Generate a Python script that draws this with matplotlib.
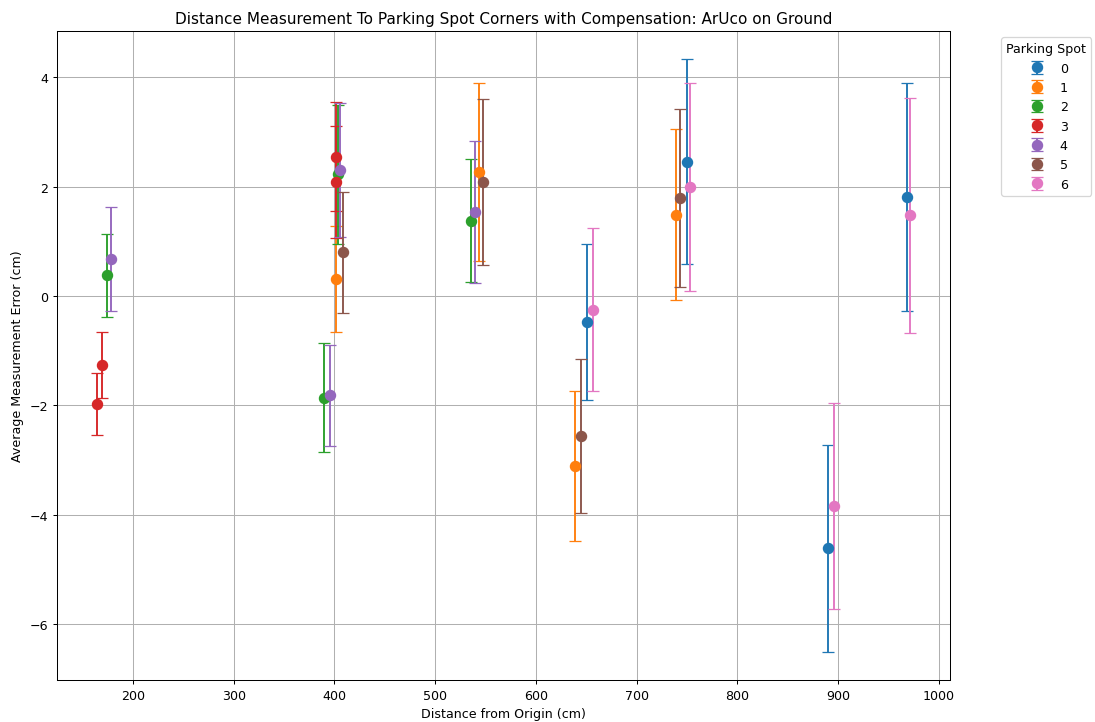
import matplotlib
matplotlib.use("Agg")
import matplotlib.pyplot as plt

# parking spot id -> distance (cm), mean error (cm), std dev (cm)
spots = [0, 1, 2, 3, 4, 5, 6]
distances = {
    0: [651.0, 749.6, 890.1, 967.9],
    1: [401.5, 543.7, 638.7, 739.0],
    2: [174.0, 389.6, 404.0, 535.5],
    3: [164.0, 169.0, 401.2, 401.5],
    4: [178.0, 395.5, 405.5, 539.5],
    5: [408.4, 547.4, 644.3, 743.0],
    6: [656.9, 752.6, 896.0, 971.2],
}
mean_errors = {
    0: [-0.48, 2.46, -4.62, 1.81],
    1: [0.31, 2.27, -3.11, 1.49],
    2: [0.38, -1.86, 2.23, 1.38],
    3: [-1.98, -1.26, 2.55, 2.09],
    4: [0.68, -1.82, 2.31, 1.54],
    5: [0.80, 2.08, -2.56, 1.80],
    6: [-0.25, 1.99, -3.84, 1.48],
}
std_errors = {
    0: [1.43, 1.87, 1.90, 2.08],
    1: [0.97, 1.63, 1.37, 1.56],
    2: [0.76, 1.00, 1.27, 1.13],
    3: [0.57, 0.60, 1.00, 1.02],
    4: [0.95, 0.92, 1.23, 1.30],
    5: [1.11, 1.52, 1.41, 1.63],
    6: [1.49, 1.90, 1.89, 2.15],
}

fig, ax = plt.subplots(figsize=(12, 7.923), dpi=91.25)

for spot in spots:
    ax.errorbar(distances[spot], mean_errors[spot], yerr=std_errors[spot],
                fmt='o', markersize=8, capsize=5, label=str(spot))

ax.set_title("Distance Measurement To Parking Spot Corners with Compensation: ArUco on Ground")
ax.set_xlabel("Distance from Origin (cm)")
ax.set_ylabel("Average Measurement Error (cm)")
ax.set_xlim(124.6, 1011)
ax.set_ylim(-7.03, 4.85)
ax.grid(True)
ax.legend(title="Parking Spot", bbox_to_anchor=(1.05, 1), loc='upper left')

fig.subplots_adjust(left=0.052, right=0.8676, top=0.9557, bottom=0.058)
plt.savefig("out.png", dpi=91.25)
